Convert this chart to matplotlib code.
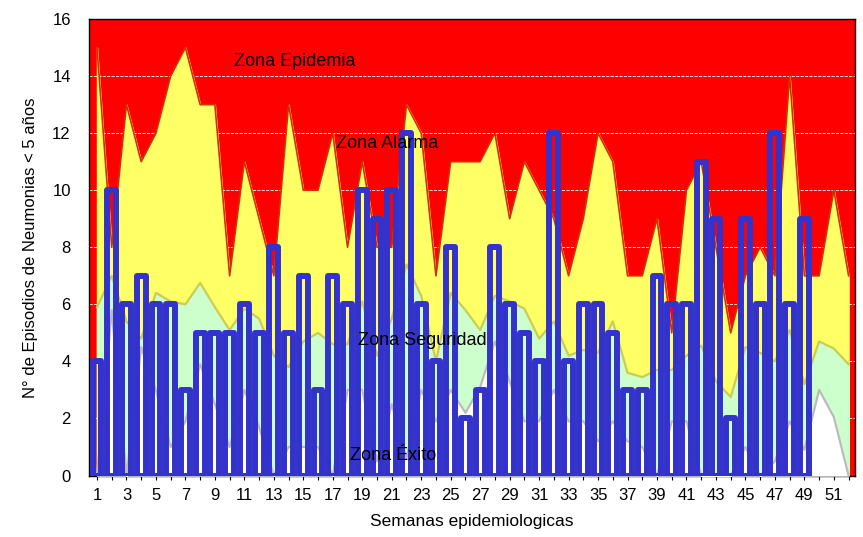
import numpy as np
import matplotlib.pyplot as plt

plt.rcParams['font.family'] = ['Liberation Sans', 'DejaVu Sans']

# semanas epidemiologicas
semanas = np.arange(1, 53)

# limite superior de la zona de alarma (borde con la zona epidemia)
alarma = [15, 8, 13, 11, 12, 14, 15, 13, 13, 7, 11, 9, 7, 13, 10, 10, 12, 8, 11, 8,
          8, 13, 12, 7, 11, 11, 11, 12, 9, 11, 10, 9, 7, 9, 12, 11, 7, 7, 9, 5,
          10, 11, 8, 5, 7, 8, 7, 14, 7, 7, 10, 7]

# limite superior de la zona de seguridad
seguridad = [5.9, 7.0, 5.4, 4.8, 6.4, 6.1, 6.0, 6.75, 5.9, 5.1, 5.85, 5.5, 4.2, 3.8, 4.7, 5.0,
             4.6, 4.6, 6.1, 4.2, 5.5, 7.4, 6.3, 4.0, 6.4, 5.8, 5.1, 6.3, 6.1, 5.85, 4.8, 5.4,
             4.2, 4.4, 4.3, 5.4, 3.6, 3.45, 3.7, 3.7, 4.2, 4.55, 3.3, 2.75, 4.5, 4.3, 4.0, 5.1,
             3.2, 4.7, 4.45, 3.9]

# limite superior de la zona de exito
exito = [0, 5.8, 0, 4.5, 3.0, 1.0, 1.9, 3.9, 2.5, 1.0, 3.0, 1.7, 0, 1.0, 1.0, 1.0,
         0, 3.0, 3.0, 0.5, 2.5, 0.6, 3.0, 1.9, 3.0, 2.2, 3.1, 4.7, 3.3, 1.9, 1.9, 3.0,
         1.9, 1.9, 1.2, 1.9, 1.2, 1.0, 0, 1.9, 1.9, 0, 0, 0, 1.0, 0, 0.5, 1.9,
         0.9, 3.0, 2.05, 0]

# casos observados (semanas 1-49)
semanas_casos = np.arange(1, 50)
casos = [4, 10, 6, 7, 6, 6, 3, 5, 5, 5, 6, 5, 8, 5, 7, 3, 7, 6, 10, 9,
         10, 12, 6, 4, 8, 2, 3, 8, 6, 5, 4, 12, 4, 6, 6, 5, 3, 3, 7, 6,
         6, 11, 9, 2, 9, 6, 12, 6, 9]

fig = plt.figure(figsize=(8.63, 5.37), dpi=100)
ax = fig.add_axes([0.103, 0.1145, 0.888, 0.850])
ax.set_facecolor('#ff0000')

ax.grid(axis='y', color='white', linestyle='--', linewidth=0.6, zorder=0)
ax.set_axisbelow(True)

ax.fill_between(semanas, 0, alarma, color='#ffff66', zorder=1)
ax.plot(semanas, alarma, color='#cc3300', linewidth=1.2, zorder=1.1)
ax.fill_between(semanas, 0, seguridad, color='#ccffcc', zorder=2)
ax.plot(semanas, seguridad, color='#cccc55', linewidth=1.6, zorder=2.1)
ax.fill_between(semanas, 0, exito, color='white', zorder=3)
ax.plot(semanas, exito, color='#bbbbbb', linewidth=1.6, zorder=3.1)

ax.bar(semanas_casos, casos, width=0.6, facecolor='none', edgecolor='#3333cc',
       linewidth=4.3, joinstyle='round', zorder=4)

ax.text(14.4, 14.5, 'Zona Epidemia', ha='center', va='center', fontsize=13, zorder=5)
ax.text(20.7, 11.65, 'Zona Alarma', ha='center', va='center', fontsize=13, zorder=5)
ax.text(23.1, 4.75, 'Zona Seguridad', ha='center', va='center', fontsize=13, zorder=5)
ax.text(21.1, 0.7, 'Zona Éxito', ha='center', va='center', fontsize=13, zorder=5)

ax.set_xlim(0.45, 52.45)
ax.set_ylim(0, 16)
ax.set_yticks(np.arange(0, 17, 2))
ax.set_xticks(semanas)
ax.set_xticklabels([str(s) if s % 2 == 1 else '' for s in semanas], fontsize=12)
ax.tick_params(axis='x', length=3, pad=6)
ax.tick_params(axis='y', length=0, labelsize=12, pad=13)

ax.set_xlabel('Semanas epidemiologicas', fontsize=12.5, labelpad=8)
ax.set_ylabel('N° de Episodios de Neumonias < 5 años', fontsize=12, labelpad=10)

for s in ax.spines.values():
    s.set_linewidth(1)

fig.savefig('out.png', dpi=100)
